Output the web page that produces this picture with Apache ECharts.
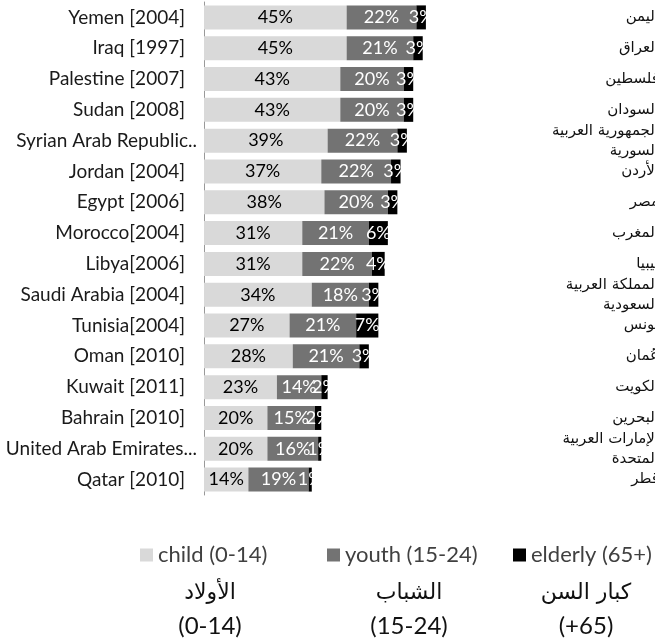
<!DOCTYPE html>
<html>
<head>
<meta charset="utf-8">
<script src="https://cdn.jsdelivr.net/npm/echarts@6/dist/echarts.min.js"></script>
<style>
html,body{margin:0;padding:0;background:#fff;}
#chart{width:655px;height:642px;}
</style>
</head>
<body>
<div id="chart"></div>
<script>
const categories = ['Yemen [2004]','Iraq [1997]','Palestine [2007]','Sudan [2008]','Syrian Arab Republic..','Jordan [2004]','Egypt [2006]','Morocco[2004]','Libya[2006]','Saudi Arabia [2004]','Tunisia[2004]','Oman [2010]','Kuwait [2011]','Bahrain [2010]','United Arab Emirates...','Qatar [2010]'];
const arabicNames = ['اليمن','العراق','فلسطين','السودان','الجمهورية العربية\nالسورية','الأردن','مصر','المغرب','ليبيا','المملكة العربية\nالسعودية','تونس','عُمان','الكويت','البحرين','الإمارات العربية\nالمتحدة','قطر'];
const child = [45,45,43,43,39,37,38,31,31,34,27,28,23,20,20,14];
const youth = [22,21,20,20,22,22,20,21,22,18,21,21,14,15,16,19];
const elderly = [3,3,3,3,3,3,3,6,4,3,7,3,2,2,1,1];
const seriesNames = ['child (0-14)','youth (15-24)','elderly (65+)'];
const arabicLegend = ['الأولاد','الشباب','كبار السن'];
const arabicRanges = ['(0-14)','(15-24)','(+65)'];

const colors = ['#d9d9d9','#737373','#000000'];
const latin = 'Lato, "Open Sans", sans-serif';
const arab = '"DejaVu Sans", sans-serif';

const chart = echarts.init(document.getElementById('chart'), null, {renderer:'canvas'});

function bar(name, data, color, labelColor){
  return {
    name: name, type:'bar', stack:'total', data: data,
    barWidth: 24,
    itemStyle:{color: color},
    label:{show:true, position:'inside', formatter:'{c}%', color: labelColor, fontSize:18, fontFamily: latin},
    emphasis:{disabled:true}
  };
}

const legendX = [135, 322, 508];
const graphics = [];
for (let i=0;i<3;i++){
  const cx = [210, 409, 586][i];
  graphics.push({type:'text', x:cx, y:593, style:{text:arabicLegend[i], font:'22px '+arab, fill:'#111', textAlign:'center', textVerticalAlign:'middle'}});
  graphics.push({type:'text', x:cx, y:626, style:{text:arabicRanges[i], font:'24px '+latin, fill:'#111', textAlign:'center', textVerticalAlign:'middle'}});
}

chart.setOption({
  animation:false,
  backgroundColor:'#fff',
  grid:{left:204, top:2, width:317, height:493, containLabel:false, outerBoundsMode:'none'},
  xAxis:{type:'value', min:0, max:100, show:false},
  yAxis:[{
    type:'category', data:categories, inverse:true,
    axisLine:{show:true, lineStyle:{color:'#999', width:1}},
    axisTick:{show:false},
    axisLabel:{
      margin:7, fontSize:19, fontFamily:latin, color:'#1a1a1a',
      formatter:function(v){ return v.indexOf('..')>=0 ? '{l|'+v+'}' : '{n|'+v+'}'; },
      rich:{
        n:{fontSize:19, fontFamily:latin, color:'#1a1a1a', padding:[0,12,0,0]},
        l:{fontSize:19, fontFamily:latin, color:'#1a1a1a'}
      }
    }
  },{
    type:'category', data:categories, inverse:true, position:'right',
    axisLine:{show:false}, axisTick:{show:false},
    axisLabel:{
      margin:138, align:'right', fontSize:15, fontFamily:arab, color:'#111', lineHeight:20,
      formatter:function(v, idx){ return arabicNames[idx]; }
    }
  }],
  legend:[0,1,2].map(i=>({
    data:[seriesNames[i]], left:legendX[i], top:539, icon:'rect', itemWidth:13, itemHeight:13, itemGap:6,
    textStyle:{fontSize:22, fontFamily:latin, color:'#404040'}, selectedMode:false
  })),
  series:[
    bar(seriesNames[0], child, colors[0], '#000'),
    bar(seriesNames[1], youth, colors[1], '#fff'),
    bar(seriesNames[2], elderly, colors[2], '#fff')
  ],
  graphic: graphics
});
</script>
</body>
</html>
